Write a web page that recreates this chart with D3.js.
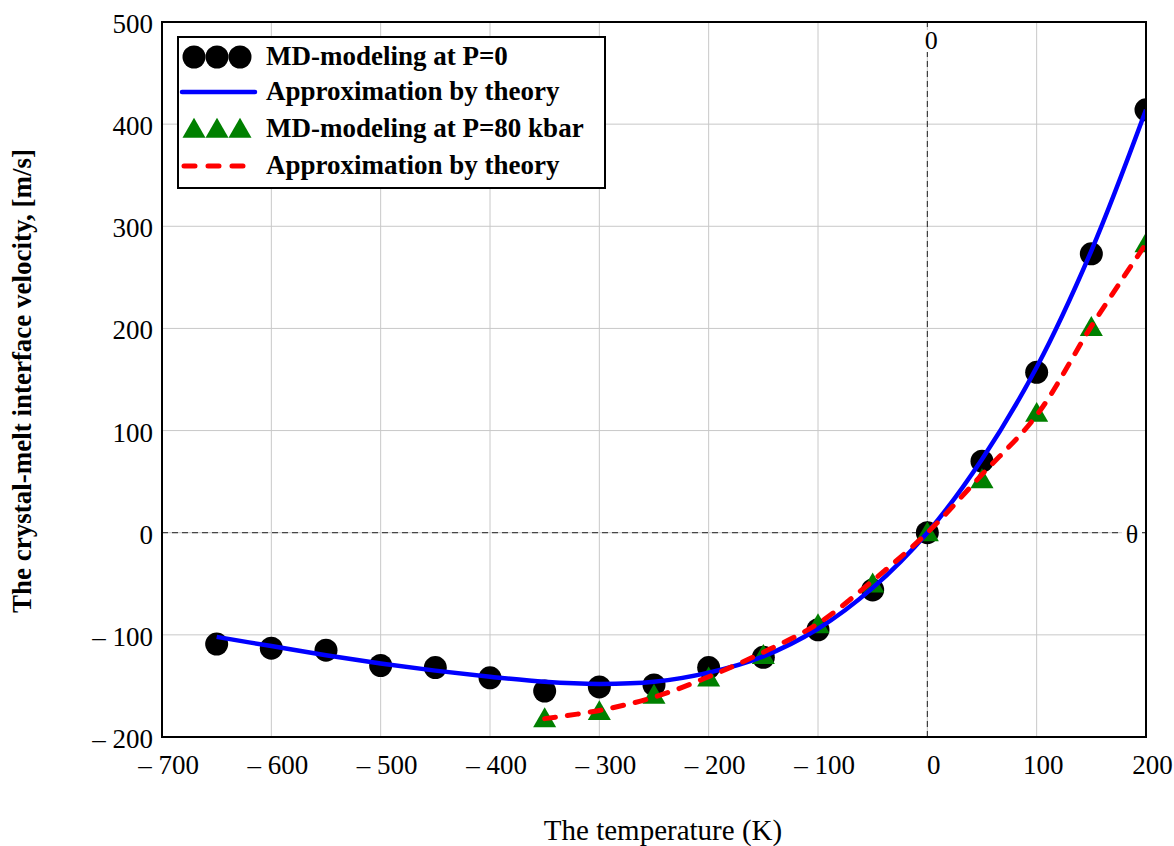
<!DOCTYPE html>
<html>
<head>
<meta charset="utf-8">
<script src="https://cdn.jsdelivr.net/npm/d3@7"></script>
<style>
  body { margin: 0; background: #fff; }
  svg text { font-family: "Liberation Serif", "Times New Roman", serif; fill: #000; }
</style>
</head>
<body>
<div id="chart"></div>
<script>
// temperatures (K, relative to melting point)
var temps = [-650, -600, -550, -500, -450, -400, -350, -300, -250, -200, -150, -100, -50, 0, 50, 100, 150, 200];
// MD-modeling at P=0
var mdP0 = [-109, -113, -115, -130, -132, -142, -155, -151, -149, -132, -122, -95, -56, 0, 70, 157, 273, 414];
// theory approximation at P=0
var theoryP0 = [-102, -111, -120, -128, -135, -141, -146, -148, -146, -137, -121, -94, -54, 0, 72, 162, 276, 414];

var tempsP80 = [-350, -300, -250, -200, -150, -100, -50, 0, 50, 100, 150, 200];
// MD-modeling at P=80 kbar
var mdP80 = [-182, -175, -159, -142, -120, -90, -50, 0, 52, 117, 201, 283];
// theory approximation at P=80 kbar
var theoryP80 = [-182, -174, -161, -141, -117, -89, -47, 0, 57, 115, 202, 283];

var xTicks = [-700, -600, -500, -400, -300, -200, -100, 0, 100, 200];
var yTicks = [-200, -100, 0, 100, 200, 300, 400, 500];

var legendItems = ["MD-modeling at P=0", "Approximation by theory", "MD-modeling at P=80 kbar", "Approximation by theory"];

var width = 1174, height = 846;
var margin = {top: 22, right: 28, bottom: 109, left: 162};

var svg = d3.select("#chart").append("svg")
    .attr("width", width)
    .attr("height", height);

var x = d3.scaleLinear().domain([-700, 200]).range([margin.left, width - margin.right]);
var y = d3.scaleLinear().domain([-200, 500]).range([height - margin.bottom, margin.top]);

//grid lines
svg.append("g").selectAll("line.vg").data(xTicks).enter().append("line")
    .attr("x1", function(d) { return x(d); })
    .attr("x2", function(d) { return x(d); })
    .attr("y1", y(-200)).attr("y2", y(500))
    .attr("stroke", "#c8c8c8").attr("stroke-width", 1);
svg.append("g").selectAll("line.hg").data(yTicks).enter().append("line")
    .attr("y1", function(d) { return y(d); })
    .attr("y2", function(d) { return y(d); })
    .attr("x1", x(-700)).attr("x2", x(200))
    .attr("stroke", "#c8c8c8").attr("stroke-width", 1);

//dashed zero lines
svg.append("line")
    .attr("x1", x(0)).attr("x2", x(0)).attr("y1", y(-200)).attr("y2", y(500))
    .attr("stroke", "#222").attr("stroke-width", 1).attr("stroke-dasharray", "6,4");
svg.append("line")
    .attr("x1", x(-700)).attr("x2", x(200)).attr("y1", y(0)).attr("y2", y(0))
    .attr("stroke", "#222").attr("stroke-width", 1).attr("stroke-dasharray", "6,4");

svg.append("rect")
    .attr("x", x(0) - 4).attr("y", y(500) + 8).attr("width", 16).attr("height", 22)
    .attr("fill", "#fff");
svg.append("text")
    .attr("x", x(0) + 4).attr("y", y(500) + 27)
    .attr("text-anchor", "middle")
    .style("font-size", "26px")
    .text("0");
svg.append("rect")
    .attr("x", x(200) - 24).attr("y", y(0) - 10).attr("width", 20).attr("height", 20)
    .attr("fill", "#fff");
svg.append("text")
    .attr("x", x(200) - 14).attr("y", y(0) + 10)
    .attr("text-anchor", "middle")
    .style("font-size", "26px")
    .text("θ");

function fmt(d) {
    return d < 0 ? "\u2013 " + Math.abs(d) : String(d);
}

//axes
var xAxis = d3.axisBottom(x).tickValues(xTicks).tickSize(0).tickPadding(14).tickFormat(fmt);
var yAxis = d3.axisLeft(y).tickValues(yTicks).tickSize(0).tickPadding(9).tickFormat(fmt);

var gx = svg.append("g").attr("transform", "translate(0," + y(-200) + ")").call(xAxis);
gx.select(".domain").remove();
gx.selectAll("text")
    .attr("dy", null).attr("y", 37).attr("dx", 6)
    .style("font-size", "27px").style("font-family", "'Liberation Serif', serif").attr("fill", "#000");

var gy = svg.append("g").attr("transform", "translate(" + x(-700) + ",0)").call(yAxis);
gy.select(".domain").remove();
gy.selectAll("text")
    .attr("dy", "0.35em").attr("y", 1)
    .style("font-size", "27px").style("font-family", "'Liberation Serif', serif").attr("fill", "#000");

//clip for data
svg.append("clipPath").attr("id", "plotclip").append("rect")
    .attr("x", x(-700)).attr("y", y(500))
    .attr("width", x(200) - x(-700)).attr("height", y(-200) - y(500));

var plot = svg.append("g").attr("clip-path", "url(#plotclip)");

var line = d3.line().curve(d3.curveCatmullRom.alpha(0.5))
    .x(function(d) { return x(d[0]); })
    .y(function(d) { return y(d[1]); });

var triangle = d3.symbol().type(d3.symbolTriangle).size(230);

// black circles
plot.selectAll("circle.p0").data(d3.zip(temps, mdP0)).enter().append("circle")
    .attr("cx", function(d) { return x(d[0]); })
    .attr("cy", function(d) { return y(d[1]); })
    .attr("r", 11.5)
    .attr("fill", "#000");

// green triangles
plot.selectAll("path.p80").data(d3.zip(tempsP80, mdP80)).enter().append("path")
    .attr("d", triangle)
    .attr("transform", function(d) { return "translate(" + x(d[0]) + "," + (y(d[1]) + 2) + ")"; })
    .attr("fill", "#008000");

// theory lines
plot.append("path").datum(d3.zip(temps, theoryP0))
    .attr("d", line)
    .attr("fill", "none").attr("stroke", "#0000ff").attr("stroke-width", 4.5);

plot.append("path").datum(d3.zip(tempsP80, theoryP80))
    .attr("d", line)
    .attr("fill", "none").attr("stroke", "#ff0000").attr("stroke-width", 5)
    .attr("stroke-dasharray", "11,12").attr("stroke-linecap", "round");

//frame
svg.append("rect")
    .attr("x", x(-700)).attr("y", y(500))
    .attr("width", x(200) - x(-700)).attr("height", y(-200) - y(500))
    .attr("fill", "none").attr("stroke", "#000").attr("stroke-width", 2);

//legend
var lg = svg.append("g").attr("transform", "translate(178,37)");
lg.append("rect").attr("width", 427).attr("height", 151)
    .attr("fill", "#fff").attr("stroke", "#000").attr("stroke-width", 2);

var rowY = [20, 55, 92, 129];
[16, 39, 62].forEach(function(cx) {
    lg.append("circle").attr("cx", cx).attr("cy", rowY[0]).attr("r", 11.5).attr("fill", "#000");
    lg.append("path").attr("d", triangle)
        .attr("transform", "translate(" + cx + "," + (rowY[2] + 2) + ")")
        .attr("fill", "#008000");
});
lg.append("line").attr("x1", 4).attr("x2", 77).attr("y1", rowY[1]).attr("y2", rowY[1])
    .attr("stroke", "#0000ff").attr("stroke-width", 4.5).attr("stroke-linecap", "round");
lg.append("line").attr("x1", 6).attr("x2", 77).attr("y1", rowY[3]).attr("y2", rowY[3])
    .attr("stroke", "#ff0000").attr("stroke-width", 5).attr("stroke-linecap", "round")
    .attr("stroke-dasharray", "11,13");

lg.selectAll("text.leg").data(legendItems).enter().append("text")
    .attr("x", 88)
    .attr("y", function(d, i) { return rowY[i] + 8; })
    .style("font-size", "27px").style("font-weight", "bold")
    .text(function(d) { return d; });

//axis titles
svg.append("text")
    .attr("x", 663).attr("y", 840)
    .attr("text-anchor", "middle")
    .style("font-size", "29px")
    .text("The temperature (K)");

svg.append("text")
    .attr("transform", "translate(31,381) rotate(-90)")
    .attr("text-anchor", "middle")
    .style("font-size", "27px").style("font-weight", "bold")
    .text("The crystal-melt interface velocity, [m/s]");
</script>
</body>
</html>
